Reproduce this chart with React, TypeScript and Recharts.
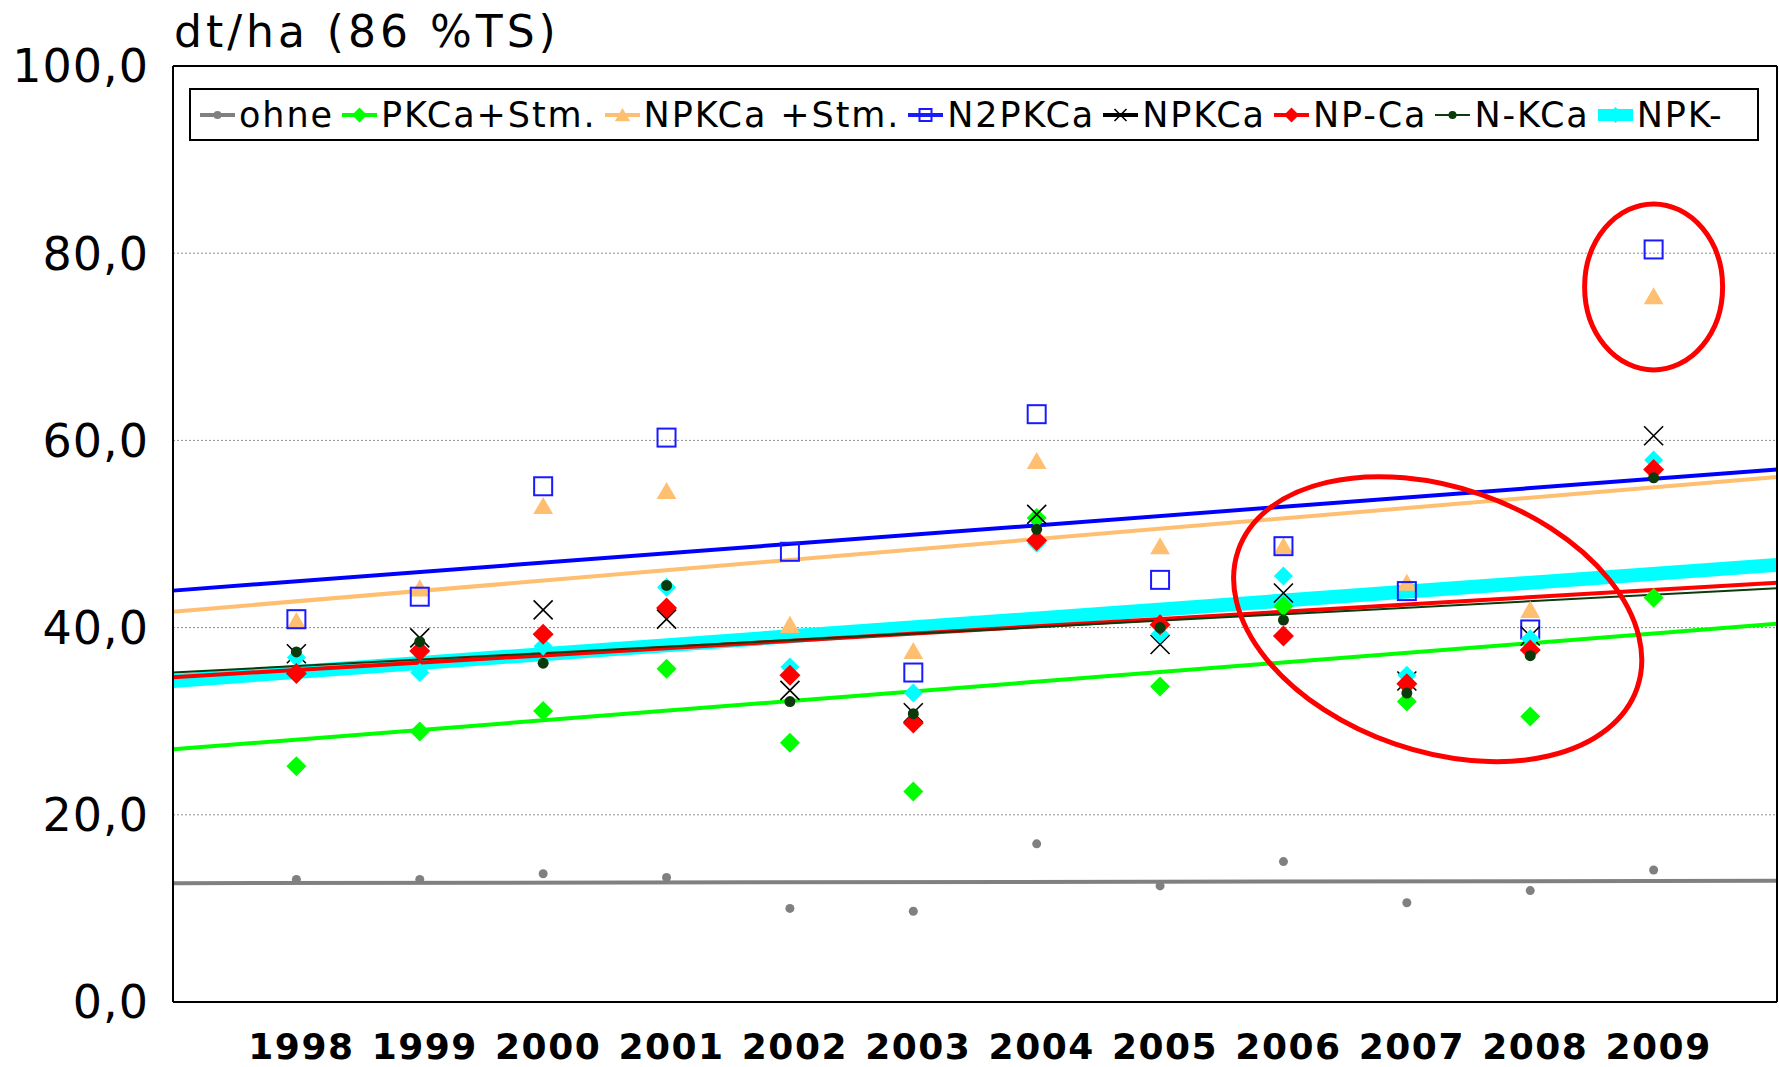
import React from 'react';
import {
  ScatterChart,
  Scatter,
  XAxis,
  YAxis,
  CartesianGrid,
  ReferenceLine,
  ReferenceDot,
} from 'recharts';

// yields per year, dt/ha (86 %TS)
const years = [1998, 1999, 2000, 2001, 2002, 2003, 2004, 2005, 2006, 2007, 2008, 2009];
const ohne = [13.1, 13.1, 13.7, 13.3, 10.0, 9.7, 16.9, 12.4, 15.0, 10.6, 11.9, 14.1];
const pkcaStm = [25.2, 28.9, 31.1, 35.6, 27.7, 22.5, 51.7, 33.7, 42.3, 32.1, 30.5, 43.2];
const npkcaStm = [40.7, 44.2, 53.0, 54.6, 40.3, 37.5, 57.8, 48.7, 48.7, 44.8, 41.9, 75.4];
const n2pkca = [40.9, 43.3, 55.1, 60.3, 48.1, 35.2, 62.8, 45.1, 48.7, 43.9, 39.8, 80.4];
const npkca = [37.2, 38.9, 41.9, 40.9, 33.3, 30.9, 52.1, 38.2, 43.7, 34.3, 39.1, 60.5];
const npCa = [35.1, 37.5, 39.3, 42.1, 34.9, 29.8, 49.3, 40.3, 39.1, 34.0, 37.6, 56.9];
const nKca = [37.4, 38.5, 36.2, 44.5, 32.1, 30.8, 50.5, 40.0, 40.8, 33.0, 37.0, 56.0];
const npk = [36.8, 35.2, 38.0, 44.3, 35.8, 33.0, 49.0, 39.3, 45.5, 34.9, 38.8, 57.9];

// linear trend lines, value at start and end of the axis
const trendYears = [1997, 2010];
const trendOhne = [12.7, 12.95];
const trendPkcaStm = [27.0, 40.4];
const trendNpkcaStm = [41.7, 56.1];
const trendN2pkca = [43.95, 56.9];
const trendNpk = [34.3, 46.7];
const trendNpCa = [34.7, 44.8];
const trendNKca = [35.2, 44.2];

const yTicks = [0, 20, 40, 60, 80, 100];

// circled annotations: [year, value]
const circleTop = [2009, 76.4];
const circleMid = [2007.25, 40.9];

const FONT = '"DejaVu Sans", Verdana, sans-serif';

const toPoints = (vals: number[]) => years.map((x, i) => ({ x, y: vals[i] }));
const toSegment = (vals: number[]) => trendYears.map((x, i) => ({ x, y: vals[i] }));

const diamond = (color: string, r: number) => (p: any) => (
  <path
    d={`M${p.cx},${p.cy - r}L${p.cx + r},${p.cy}L${p.cx},${p.cy + r}L${p.cx - r},${p.cy}Z`}
    fill={color}
  />
);
const triangle = (color: string, r: number) => (p: any) => (
  <path
    d={`M${p.cx},${p.cy - r}L${p.cx + r * 1.1},${p.cy + r * 0.9}L${p.cx - r * 1.1},${p.cy + r * 0.9}Z`}
    fill={color}
  />
);
const square = (color: string, r: number) => (p: any) => (
  <rect x={p.cx - r} y={p.cy - r} width={r * 2} height={r * 2} fill="none" stroke={color} strokeWidth={2} />
);
const cross = (color: string, r: number) => (p: any) => (
  <path
    d={`M${p.cx - r},${p.cy - r}L${p.cx + r},${p.cy + r}M${p.cx + r},${p.cy - r}L${p.cx - r},${p.cy + r}`}
    stroke={color}
    strokeWidth={1.6}
  />
);
const dot = (color: string, r: number) => (p: any) => <circle cx={p.cx} cy={p.cy} r={r} fill={color} />;

const series = [
  { name: 'ohne', vals: ohne, color: '#808080', line: 4, shape: dot('#808080', 4.5), mini: dot('#808080', 4) },
  { name: 'PKCa+Stm.', vals: pkcaStm, color: '#00ff00', line: 4, shape: diamond('#00ff00', 10), mini: diamond('#00ff00', 7.5) },
  { name: 'NPKCa +Stm.', vals: npkcaStm, color: '#ffbf70', line: 4, shape: triangle('#ffbf70', 9), mini: triangle('#ffbf70', 7) },
  { name: 'N2PKCa', vals: n2pkca, color: '#1a1aff', line: 4, shape: square('#1a1aff', 9), mini: square('#1a1aff', 6) },
  { name: 'NPKCa', vals: npkca, color: '#000000', line: 4, shape: cross('#000000', 9.5), mini: cross('#000000', 6) },
  { name: 'NPK-', vals: npk, color: '#00ffff', line: 12, shape: diamond('#00ffff', 9.5), mini: diamond('#00ffff', 8) },
  { name: 'NP-Ca', vals: npCa, color: '#ff0000', line: 4, shape: diamond('#ff0000', 10.5), mini: diamond('#ff0000', 7.5) },
  { name: 'N-KCa', vals: nKca, color: '#0b3b0b', line: 2, shape: dot('#0b3b0b', 5.5), mini: dot('#0b3b0b', 4) },
];

const legendOrder = ['ohne', 'PKCa+Stm.', 'NPKCa +Stm.', 'N2PKCa', 'NPKCa', 'NP-Ca', 'N-KCa', 'NPK-'];

const trends = [
  { vals: trendOhne, color: '#808080', width: 4 },
  { vals: trendPkcaStm, color: '#00ff00', width: 4 },
  { vals: trendNpkcaStm, color: '#ffbf70', width: 4 },
  { vals: trendN2pkca, color: '#0000ff', width: 4 },
  { vals: trendNpk, color: '#00ffff', width: 14 },
  { vals: trendNpCa, color: '#ff0000', width: 4 },
  { vals: trendNKca, color: '#0b3b0b', width: 2 },
];

function ChartLegend() {
  return (
    <div
      style={{
        position: 'absolute',
        left: 189,
        top: 88,
        width: 1570,
        height: 53,
        boxSizing: 'border-box',
        border: '2px solid #000',
        background: '#fff',
        display: 'flex',
        alignItems: 'center',
        paddingLeft: 9,
        fontFamily: FONT,
        fontSize: 35,
        letterSpacing: 1.9,
        whiteSpace: 'pre',
      }}
    >
      {legendOrder.map((name) => {
        const s = series.find((d) => d.name === name)!;
        return (
          <div key={name} style={{ display: 'flex', alignItems: 'center', marginRight: 8 }}>
            <svg width={35} height={24}>
              <line x1={0} y1={12} x2={35} y2={12} stroke={s.color} strokeWidth={s.line} />
              {s.mini({ cx: 17.5, cy: 12 })}
            </svg>
            <span style={{ marginLeft: 4 }}>{name}</span>
          </div>
        );
      })}
    </div>
  );
}

export default function App() {
  return (
    <div style={{ position: 'absolute', left: 0, top: 0, width: 1779, height: 1067, background: '#fff' }}>
      <ScatterChart width={1779} height={1067} margin={{ top: 66, right: 2, bottom: 0, left: 0 }}>
        <CartesianGrid horizontal vertical={false} stroke="#8c8c8c" strokeDasharray="2 2" />
        <XAxis
          type="number"
          dataKey="x"
          domain={[1997, 2010]}
          ticks={years}
          interval={0}
          height={65}
          tickLine={false}
          tickSize={0}
          tickMargin={31}
          axisLine={{ stroke: '#000', strokeWidth: 2 }}
          tick={{ fontFamily: FONT, fontSize: 36, fontWeight: 'bold', fill: '#000', letterSpacing: 1.5, dx: 5 }}
        />
        <YAxis
          type="number"
          dataKey="y"
          domain={[0, 100]}
          ticks={yTicks}
          width={173}
          tickLine={false}
          tickSize={0}
          tickMargin={24}
          axisLine={{ stroke: '#000', strokeWidth: 2 }}
          tickFormatter={(v: number) => v.toFixed(1).replace('.', ',')}
          tick={{ fontFamily: FONT, fontSize: 46, fill: '#000', letterSpacing: 1 }}
        />
        {series.map((s) => (
          <Scatter key={s.name} name={s.name} data={toPoints(s.vals)} shape={s.shape} isAnimationActive={false} />
        ))}
        {trends.map((t, i) => (
          <ReferenceLine key={i} segment={toSegment(t.vals)} stroke={t.color} strokeWidth={t.width} ifOverflow="visible" />
        ))}
        <ReferenceLine y={100} stroke="#000" strokeWidth={2} />
        <ReferenceLine x={2010} stroke="#000" strokeWidth={2} />
        <ReferenceDot
          x={circleTop[0]}
          y={circleTop[1]}
          ifOverflow="visible"
          shape={(p: any) => <ellipse cx={p.cx} cy={p.cy} rx={69} ry={83} fill="none" stroke="#ff0000" strokeWidth={5} />}
        />
        <ReferenceDot
          x={circleMid[0]}
          y={circleMid[1]}
          ifOverflow="visible"
          shape={(p: any) => (
            <ellipse
              cx={p.cx}
              cy={p.cy}
              rx={211}
              ry={132}
              transform={`rotate(19 ${p.cx} ${p.cy})`}
              fill="none"
              stroke="#ff0000"
              strokeWidth={5}
            />
          )}
        />
      </ScatterChart>
      <div
        style={{
          position: 'absolute',
          left: 174,
          top: 10,
          fontFamily: FONT,
          fontSize: 44,
          lineHeight: '44px',
          letterSpacing: 4,
          whiteSpace: 'pre',
          color: '#000',
        }}
      >
        dt/ha (86 %TS)
      </div>
      <ChartLegend />
    </div>
  );
}
